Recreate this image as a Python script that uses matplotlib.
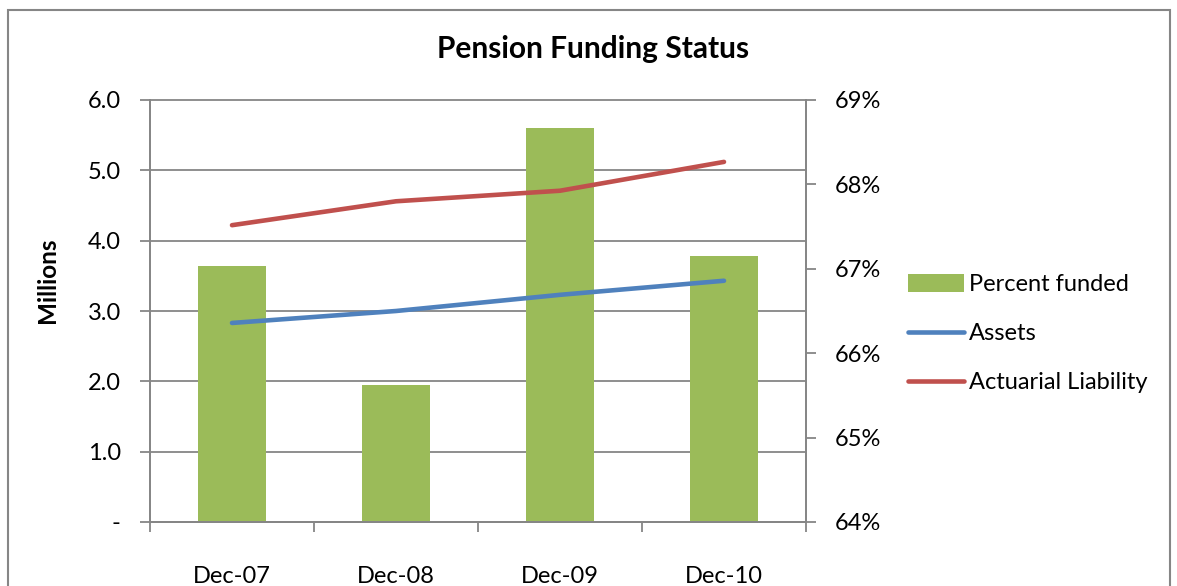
import numpy as np
import matplotlib
matplotlib.use("Agg")
import matplotlib.pyplot as plt
from matplotlib.patches import Patch, Rectangle
from matplotlib.lines import Line2D
from matplotlib.transforms import blended_transform_factory
from matplotlib.ticker import FuncFormatter

plt.rcParams['font.family'] = ['Lato', 'DejaVu Sans']

# data
periods = ['Dec-07', 'Dec-08', 'Dec-09', 'Dec-10']
assets = [2.83, 3.00, 3.23, 3.43]           # millions
liability = [4.22, 4.56, 4.71, 5.12]        # millions
pct_funded = [67.03, 65.62, 68.67, 67.15]   # percent

green = '#9BBB59'
blue = '#4F81BD'
red = '#C0504D'
grey = '#868686'
fs = 17

fig = plt.figure(figsize=(11.77, 5.86), dpi=100)

# outer chart border (bottom runs off the image)
fig.patches.append(Rectangle((8 / 1177, -0.05), (1170 - 8) / 1177, 1.05 - 10 / 586,
                             transform=fig.transFigure, fill=False,
                             edgecolor=grey, linewidth=1.5))

ax = fig.add_axes([150 / 1177, 64 / 586, 656 / 1177, 422 / 586])
ax2 = ax.twinx()
ax.set_zorder(2)
ax.patch.set_visible(False)
ax2.set_zorder(1)

x = np.arange(len(periods))

# bars (right axis)
ax2.bar(x, pct_funded, width=0.41, color=green, zorder=2)
ax2.set_ylim(64, 69)
ax2.set_yticks(np.arange(64, 70, 1))
ax2.yaxis.set_major_formatter(FuncFormatter(lambda v, p: f'{v:.0f}%'))

# lines (left axis)
ax.plot(x, assets, color=blue, linewidth=3.3, solid_capstyle='round')
ax.plot(x, liability, color=red, linewidth=3.3, solid_capstyle='round')
ax.set_ylim(0, 6)
ax.set_xlim(-0.5, len(periods) - 0.5)
yt = np.arange(0, 7, 1)
ax.set_yticks(yt)
ax.yaxis.set_major_formatter(FuncFormatter(lambda v, p: '-' if v == 0 else f'{v:.1f}'))

# gridlines sit under the bars, so draw them on the bar axes
tr = blended_transform_factory(ax2.transAxes, ax.transData)
for v in yt:
    ax2.plot([0, 1], [v, v], color=grey, linewidth=1.3, transform=tr, zorder=1,
             clip_on=False)

for a in (ax, ax2):
    for s in a.spines.values():
        s.set_color(grey)
        s.set_linewidth(1.3)
    a.spines['top'].set_visible(False)

ax.set_xticks(x)
ax.set_xticklabels(periods)
ax.set_xticks(np.arange(-0.5, len(periods)), minor=True)
ax.tick_params(axis='x', which='major', length=0, pad=32, labelsize=fs)
ax.tick_params(axis='x', which='minor', length=7, width=1.3, color=grey, direction='out')
ax.tick_params(axis='y', length=7, width=1.3, color=grey, pad=14, labelsize=fs)
ax2.tick_params(axis='y', length=7, width=1.3, color=grey, pad=14, labelsize=fs)
ax2.tick_params(axis='x', length=0, labelbottom=False)

ax.set_ylabel('Millions', fontsize=17.5, fontweight='bold')
ax.yaxis.set_label_coords(-0.139, 0.573)
fig.text(593 / 1177, 1 - 49 / 586, 'Pension Funding Status', ha='center', va='center',
         fontsize=21.5, fontweight='bold')

handles = [Patch(facecolor=green, edgecolor='none'),
           Line2D([], [], color=blue, linewidth=3.3, solid_capstyle='round'),
           Line2D([], [], color=red, linewidth=3.3, solid_capstyle='round')]
labels = ['Percent funded', 'Assets', 'Actuarial Liability']
fig.legend(handles, labels, loc='upper left', bbox_to_anchor=(896 / 1177, 1 - 262 / 586),
           frameon=False, fontsize=fs, handlelength=2.4, handleheight=0.8,
           handletextpad=0.2, labelspacing=1.18, borderpad=0)

fig.savefig('out.png', dpi=100)
